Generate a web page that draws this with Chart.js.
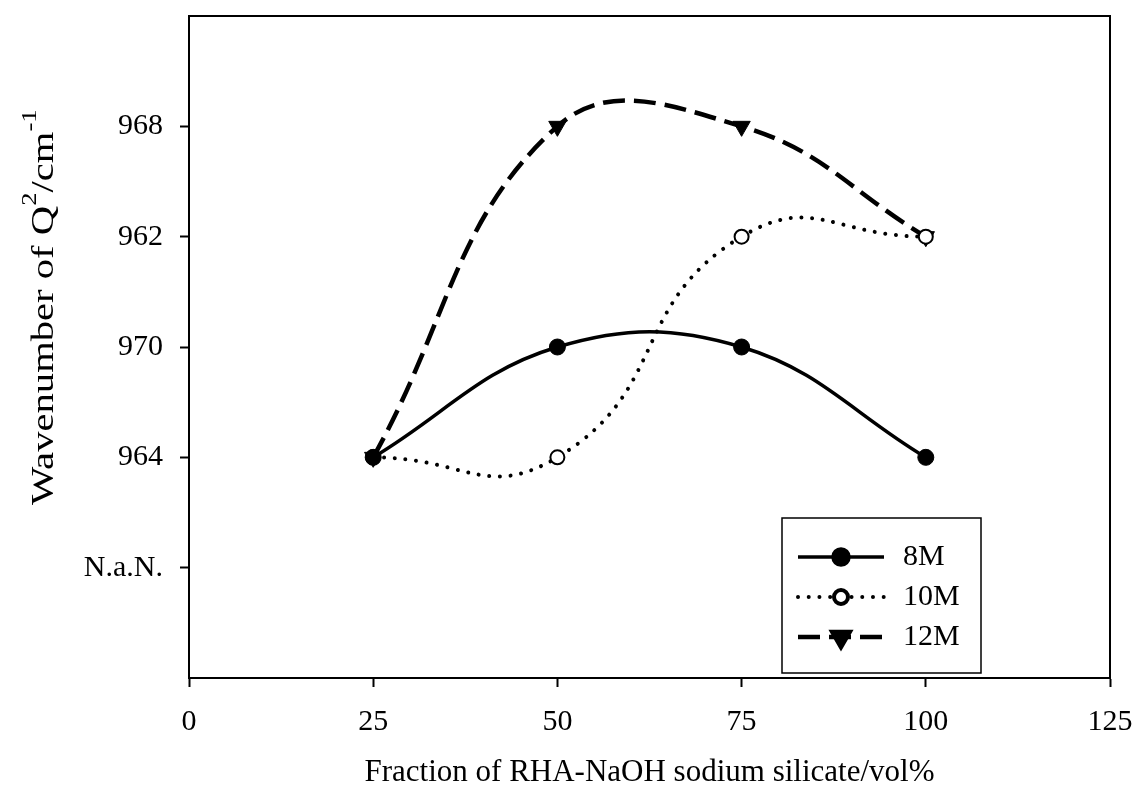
<!DOCTYPE html>
<html>
<head>
<meta charset="utf-8">
<script src="https://cdn.jsdelivr.net/npm/chart.js@4.4.1/dist/chart.umd.min.js"></script>
<style>
  html, body { margin: 0; padding: 0; background: #fff; }
  #wrap { width: 1138px; height: 797px; position: relative; }
</style>
</head>
<body>
<div id="wrap"><canvas id="chart"></canvas></div>
<script>
// Data
const fractions = [25, 50, 75, 100];
const yLabels = ['', 'N.a.N.', '964', '970', '962', '968', ''];
const wave8M = ['964', '970', '970', '964'];
const wave10M = ['964', '964', '962', '962'];
const wave12M = ['964', '968', '968', '962'];
const seriesNames = ['8M', '10M', '12M'];

const FONT = 'Liberation Serif, Times New Roman, serif';

// y axis is a row of labels, so each value sits at the index of its label
function toPoints(values) {
    return fractions.map((x, i) => ({ x: x, y: yLabels.indexOf(values[i]) }));
}

// Box round the plot area
const framePlugin = {
    id: 'frame',
    afterDraw(chart) {
        const { ctx, chartArea: a } = chart;
        ctx.save();
        ctx.strokeStyle = '#000';
        ctx.lineWidth = 2;
        ctx.strokeRect(a.left, a.top, a.right - a.left, a.bottom - a.top);
        ctx.restore();
    }
};

// y title with real superscripts (Q2 and cm-1), drawn rotated
const yTitlePlugin = {
    id: 'yTitle',
    afterDraw(chart) {
        const { ctx, chartArea: a } = chart;
        const parts = [
            { t: 'Wavenumber of Q', size: 32, rise: 0 },
            { t: '2', size: 21, rise: 17 },
            { t: '/cm', size: 32, rise: 0 },
            { t: '-1', size: 21, rise: 17 }
        ];
        ctx.save();
        ctx.translate(53, a.bottom - 173);
        ctx.rotate(-Math.PI / 2);
        ctx.scale(1.27, 1);
        ctx.fillStyle = '#000';
        ctx.textBaseline = 'alphabetic';
        ctx.textAlign = 'left';
        let x = 0;
        parts.forEach(p => {
            ctx.font = p.size + 'px ' + FONT;
            ctx.fillText(p.t, x, -p.rise);
            x += ctx.measureText(p.t).width;
        });
        ctx.restore();
    }
};

// Boxed legend with line + marker samples, like the original
const boxLegend = {
    id: 'boxLegend',
    afterDraw(chart) {
        const { ctx, chartArea: a } = chart;
        const w = 199, h = 155;
        const bx = a.right - 129 - w;
        const by = a.bottom - 5 - h;
        ctx.save();
        ctx.fillStyle = '#fff';
        ctx.fillRect(bx, by, w, h);
        ctx.strokeStyle = '#000';
        ctx.lineWidth = 1.5;
        ctx.strokeRect(bx, by, w, h);

        chart.data.datasets.forEach((ds, i) => {
            const y = by + 39 + i * 40;
            ctx.save();
            ctx.strokeStyle = ds.borderColor;
            ctx.lineWidth = ds.borderWidth;
            ctx.lineCap = ds.borderCapStyle || 'butt';
            ctx.setLineDash(ds.borderDash || []);
            ctx.beginPath();
            ctx.moveTo(bx + 16, y);
            ctx.lineTo(bx + 102, y);
            ctx.stroke();
            ctx.setLineDash([]);
            ctx.fillStyle = ds.pointBackgroundColor;
            ctx.strokeStyle = ds.pointBorderColor;
            Chart.helpers.drawPoint(ctx, {
                pointStyle: ds.pointStyle,
                rotation: ds.pointRotation || 0,
                radius: ds.pointRadius,
                borderWidth: ds.pointBorderWidth
            }, bx + 59, y);
            ctx.restore();

            ctx.fillStyle = '#000';
            ctx.font = '30px ' + FONT;
            ctx.textBaseline = 'middle';
            ctx.textAlign = 'left';
            ctx.fillText(ds.label, bx + 121, y);
        });
        ctx.restore();
    }
};

const ctx = document.getElementById('chart').getContext('2d');
new Chart(ctx, {
    type: 'line',
    data: {
        datasets: [
            {
                label: seriesNames[0],
                data: toPoints(wave8M),
                borderColor: '#000',
                borderWidth: 3.5,
                tension: 0.4,
                pointStyle: 'circle',
                pointRadius: 8,
                pointBackgroundColor: '#000',
                pointBorderColor: '#000',
                pointBorderWidth: 1
            },
            {
                label: seriesNames[1],
                data: toPoints(wave10M),
                borderColor: '#000',
                borderWidth: 4,
                borderDash: [0.01, 10.7],
                borderCapStyle: 'round',
                tension: 0.5,
                pointStyle: 'circle',
                pointRadius: 7,
                pointBackgroundColor: '#fff',
                pointBorderColor: '#000',
                pointBorderWidth: 2
            },
            {
                label: seriesNames[2],
                data: toPoints(wave12M),
                borderColor: '#000',
                borderWidth: 4.5,
                borderDash: [22, 9],
                tension: 0.42,
                pointStyle: 'triangle',
                pointRotation: 180,
                pointRadius: 10,
                pointBackgroundColor: '#000',
                pointBorderColor: '#000',
                pointBorderWidth: 1
            }
        ]
    },
    options: {
        responsive: true,
        maintainAspectRatio: false,
        animation: false,
        layout: { padding: { top: 16, right: 28, left: 0, bottom: 0 } },
        plugins: {
            legend: { display: false },
            tooltip: { enabled: false }
        },
        scales: {
            x: {
                type: 'linear',
                min: 0,
                max: 125,
                afterFit: scale => {
                    scale.height = 119;
                    scale.paddingLeft = 0;
                    scale.paddingRight = 0;
                },
                ticks: {
                    stepSize: 25,
                    padding: 17,
                    color: '#000',
                    font: { family: FONT, size: 30 }
                },
                grid: {
                    drawOnChartArea: false,
                    drawTicks: true,
                    tickLength: 9,
                    tickWidth: 2,
                    tickColor: '#000'
                },
                border: { display: true, color: '#000', width: 2 },
                title: {
                    display: true,
                    text: 'Fraction of RHA-NaOH sodium silicate/vol%',
                    color: '#000',
                    font: { family: FONT, size: 31 },
                    padding: { top: 0, bottom: 6 }
                }
            },
            y: {
                type: 'linear',
                min: 0,
                max: 6,
                afterFit: scale => {
                    scale.width = 189;
                    scale.paddingTop = 0;
                    scale.paddingBottom = 0;
                },
                afterBuildTicks: scale => {
                    scale.ticks = scale.ticks.filter(t => yLabels[t.value]);
                },
                ticks: {
                    stepSize: 1,
                    padding: 17,
                    color: '#000',
                    font: { family: FONT, size: 30 },
                    callback: value => yLabels[value]
                },
                grid: {
                    drawOnChartArea: false,
                    drawTicks: true,
                    tickLength: 9,
                    tickWidth: 2,
                    tickColor: '#000'
                },
                border: { display: true, color: '#000', width: 2 },
                title: { display: false }
            }
        }
    },
    plugins: [framePlugin, yTitlePlugin, boxLegend]
});
</script>
</body>
</html>
